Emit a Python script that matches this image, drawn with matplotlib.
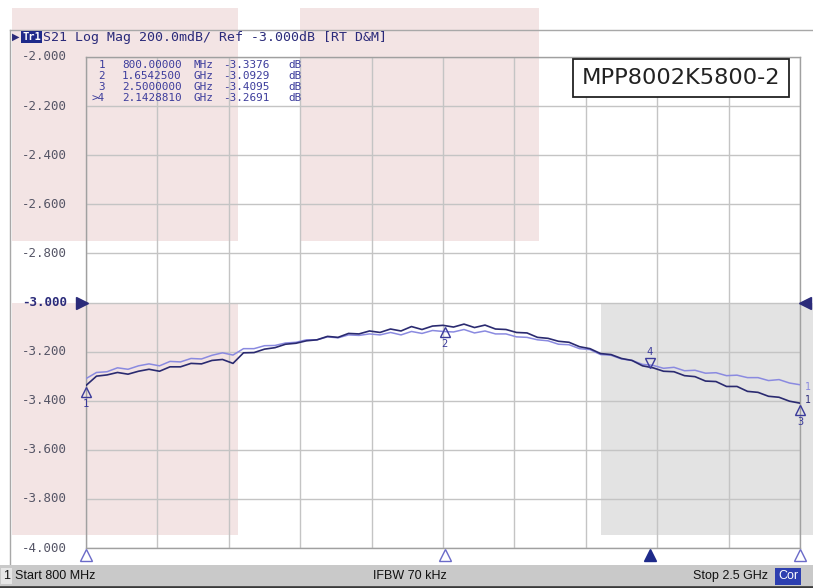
import numpy as np
import matplotlib
matplotlib.use("Agg")
import matplotlib.pyplot as plt
from matplotlib.patches import Rectangle
import matplotlib.transforms as mtransforms

# ---------------- data ----------------
freq_ghz = [0.800, 0.825, 0.850, 0.875, 0.900, 0.925, 0.950, 0.975, 1.000, 1.025,
            1.050, 1.075, 1.100, 1.125, 1.150, 1.175, 1.200, 1.225, 1.250, 1.275,
            1.300, 1.325, 1.350, 1.375, 1.400, 1.425, 1.450, 1.475, 1.500, 1.525,
            1.550, 1.575, 1.600, 1.625, 1.650, 1.675, 1.700, 1.725, 1.750, 1.775,
            1.800, 1.825, 1.850, 1.875, 1.900, 1.925, 1.950, 1.975, 2.000, 2.025,
            2.050, 2.075, 2.100, 2.125, 2.150, 2.175, 2.200, 2.225, 2.250, 2.275,
            2.300, 2.325, 2.350, 2.375, 2.400, 2.425, 2.450, 2.475, 2.500]

s21_data = [-3.338, -3.300, -3.295, -3.285, -3.292, -3.280, -3.272, -3.280, -3.262, -3.262,
            -3.248, -3.250, -3.236, -3.232, -3.248, -3.205, -3.204, -3.190, -3.184, -3.170,
            -3.166, -3.156, -3.152, -3.138, -3.142, -3.126, -3.128, -3.116, -3.122, -3.108,
            -3.116, -3.098, -3.110, -3.096, -3.093, -3.100, -3.088, -3.102, -3.092, -3.108,
            -3.110, -3.122, -3.124, -3.142, -3.146, -3.158, -3.162, -3.180, -3.188, -3.208,
            -3.212, -3.228, -3.236, -3.258, -3.266, -3.280, -3.282, -3.298, -3.302, -3.320,
            -3.322, -3.342, -3.342, -3.362, -3.366, -3.382, -3.386, -3.402, -3.410]

s21_mem = [-3.310, -3.285, -3.282, -3.266, -3.272, -3.258, -3.250, -3.258, -3.240, -3.242,
           -3.228, -3.230, -3.215, -3.205, -3.214, -3.188, -3.188, -3.176, -3.175, -3.165,
           -3.162, -3.152, -3.152, -3.140, -3.144, -3.132, -3.134, -3.128, -3.132, -3.122,
           -3.132, -3.118, -3.126, -3.114, -3.118, -3.120, -3.110, -3.124, -3.116, -3.128,
           -3.128, -3.140, -3.142, -3.152, -3.156, -3.170, -3.172, -3.188, -3.192, -3.212,
           -3.215, -3.230, -3.236, -3.252, -3.256, -3.268, -3.264, -3.278, -3.276, -3.288,
           -3.286, -3.298, -3.296, -3.306, -3.306, -3.318, -3.314, -3.328, -3.335]

marker_ids = ["1", "2", "3", "4"]
marker_freq = [0.800, 1.65425, 2.500, 2.142881]
marker_val = [-3.3376, -3.0929, -3.4095, -3.2691]
marker_num = ["1", "2", "3", ">4"]
marker_stim = ["800.00000", "1.6542500", "2.5000000", "2.1428810"]
marker_unit = ["MHz", "GHz", "GHz", "GHz"]
marker_resp = ["-3.3376", "-3.0929", "-3.4095", "-3.2691"]

y_ticks = [-2.0, -2.2, -2.4, -2.6, -2.8, -3.0, -3.2, -3.4, -3.6, -3.8, -4.0]
y_labels = ["-2.000", "-2.200", "-2.400", "-2.600", "-2.800", "-3.000",
            "-3.200", "-3.400", "-3.600", "-3.800", "-4.000"]
x_start, x_stop = 0.8, 2.5
header = "S21 Log Mag 200.0mdB/ Ref -3.000dB [RT D&M]"
title_box = "MPP8002K5800-2"

# ---------------- figure ----------------
W, H = 813, 588
fig = plt.figure(figsize=(W / 100, H / 100), dpi=100)
fig.patch.set_facecolor("white")

def fx(px):
    return px / W

def fy(py):
    return 1 - py / H

MONO = "DejaVu Sans Mono"
NAVY = "#2b2b7a"
TXT = "#3c3c9c"

# overlay shaded regions (behind axes content)
for (x0, y0, x1, y1, c) in [(12, 8, 238, 241, "#f3e4e4"),
                            (300, 8, 539, 241, "#f3e4e4"),
                            (12, 303, 238, 535, "#f3e4e4"),
                            (601, 303, 813, 535, "#e3e3e3")]:
    fig.patches.append(Rectangle((fx(x0), fy(y1)), fx(x1) - fx(x0), fy(y0) - fy(y1),
                                 transform=fig.transFigure, facecolor=c,
                                 edgecolor="none", zorder=-2))

# window borders
fig.add_artist(plt.Line2D([fx(10), fx(813)], [fy(30), fy(30)], color="#a8a8a8", lw=1.0, zorder=-1))
fig.add_artist(plt.Line2D([fx(10), fx(10)], [fy(30), fy(565)], color="#a8a8a8", lw=1.0, zorder=-1))

# status bar
fig.patches.append(Rectangle((fx(0), fy(586)), 1, fy(565) - fy(586), transform=fig.transFigure,
                             facecolor="#c9c9c9", edgecolor="none", zorder=1))
fig.add_artist(plt.Line2D([0, 1], [fy(587), fy(587)], color="#3a3a3a", lw=2.0, zorder=2))
SB = dict(fontsize=9.0, color="#111111", va="center", family="Liberation Sans", zorder=3)
fig.text(fx(3), fy(576), "1", ha="left",
         bbox=dict(boxstyle="square,pad=0.15", fc="#e6e6e6", ec="none"), **SB)
fig.text(fx(15), fy(576), "Start 800 MHz", ha="left", **SB)
fig.text(fx(410), fy(576), "IFBW 70 kHz", ha="center", **SB)
fig.text(fx(768), fy(576), "Stop 2.5 GHz", ha="right", **SB)
fig.text(fx(788), fy(576), "Cor", fontsize=9.0, color="white", va="center",
         ha="center", family="Liberation Sans", zorder=3,
         bbox=dict(boxstyle="square,pad=0.2", fc="#2d3fb0", ec="none"))

# header line
fig.text(fx(12), fy(37), "\u25B6", fontsize=7, color=NAVY, va="center", ha="left", zorder=3)
fig.text(fx(22), fy(37), "Tr1", fontsize=7.5, color="white", va="center", ha="left",
         family=MONO, weight="bold", zorder=3,
         bbox=dict(boxstyle="square,pad=0.12", fc="#1e2a8a", ec="none"))
fig.text(fx(43), fy(37), header, fontsize=9.5, color="#2a2a7a", va="center", ha="left",
         family=MONO, zorder=3)

# axes
ax = fig.add_axes([fx(86), fy(548), fx(800) - fx(86), fy(57) - fy(548)])
ax.set_zorder(0)
ax.set_facecolor("none")
ax.set_xlim(x_start, x_stop)
ax.set_ylim(-4.0, -2.0)
ax.set_xticks(np.linspace(x_start, x_stop, 11))
ax.set_yticks(y_ticks)
ax.set_xticklabels([])
ax.set_yticklabels([])
ax.tick_params(length=0)
ax.grid(True, color="#c4c4c4", lw=1.0)
for s in ax.spines.values():
    s.set_color("#a0a0a0")
    s.set_linewidth(1.0)

# y labels
for v, lab in zip(y_ticks, y_labels):
    bold = lab == "-3.000"
    ax.text(-0.09, v, lab, transform=ax.get_yaxis_transform(), ha="left", va="center",
            fontsize=9, family=MONO, color=(NAVY if bold else "#555566"),
            weight=("bold" if bold else "normal"), clip_on=False)

# traces
ax.plot(freq_ghz, s21_mem, color="#8a8ae0", lw=1.1, zorder=4)
ax.plot(freq_ghz, s21_data, color="#2a2a70", lw=1.2, zorder=5)

# reference arrows
ax.plot([x_start], [-3.0], marker=">", ms=8, color=NAVY, clip_on=False, zorder=6,
        transform=mtransforms.offset_copy(ax.transData, fig=fig, x=-4, y=0, units="dots"))
ax.plot([x_stop], [-3.0], marker="<", ms=8, color=NAVY, clip_on=False, zorder=6,
        transform=mtransforms.offset_copy(ax.transData, fig=fig, x=5, y=0, units="dots"))

# marker symbols on trace
MK = "#3a3a9a"
for mid, f, v in zip(marker_ids, marker_freq, marker_val):
    if mid == "4":
        tr = mtransforms.offset_copy(ax.transData, fig=fig, x=0, y=6, units="dots")
        ax.plot([f], [v], marker="v", ms=7, mfc="none", mec=MK, mew=1.0, transform=tr,
                clip_on=False, zorder=7)
        ax.text(f, v, mid, transform=mtransforms.offset_copy(ax.transData, fig=fig, x=0, y=17, units="dots"),
                ha="center", va="center", fontsize=7.5, family=MONO, color=MK, zorder=7)
    else:
        tr = mtransforms.offset_copy(ax.transData, fig=fig, x=0, y=-7, units="dots")
        ax.plot([f], [v], marker="^", ms=7, mfc="none", mec=MK, mew=1.0, transform=tr,
                clip_on=False, zorder=7)
        ax.text(f, v, mid, transform=mtransforms.offset_copy(ax.transData, fig=fig, x=0, y=-19, units="dots"),
                ha="center", va="center", fontsize=7.5, family=MONO, color=MK, zorder=7)

# trace end labels
ax.text(x_stop, s21_mem[-1], "1", transform=mtransforms.offset_copy(ax.transData, fig=fig, x=5, y=-2, units="dots"),
        ha="left", va="center", fontsize=7, family=MONO, color="#8a8ae0", clip_on=False, zorder=7)
ax.text(x_stop, s21_data[-1], "1", transform=mtransforms.offset_copy(ax.transData, fig=fig, x=5, y=3, units="dots"),
        ha="left", va="center", fontsize=7, family=MONO, color=NAVY, clip_on=False, zorder=7)

# stimulus markers below axis
for mid, f in zip(marker_ids, marker_freq):
    tr = mtransforms.offset_copy(ax.transData, fig=fig, x=0, y=-7, units="dots")
    filled = mid == "4"
    ax.plot([f], [-4.0], marker="^", ms=9, mfc=("#1e2a8a" if filled else "white"),
            mec=("#1e2a8a" if filled else "#6a6ac8"), mew=1.0, transform=tr,
            clip_on=False, zorder=7)

# marker table (columns placed separately)
TB = dict(fontsize=7.9, family=MONO, color=TXT, va="center", zorder=8)
for i in range(len(marker_num)):
    yy = fy(65 + 11 * i)
    fig.text(fx(105), yy, marker_num[i], ha="right", **TB)
    fig.text(fx(122), yy, marker_stim[i], ha="left", **TB)
    fig.text(fx(193), yy, marker_unit[i], ha="left", **TB)
    fig.text(fx(223), yy, marker_resp[i], ha="left", **TB)
    fig.text(fx(288), yy, "dB", ha="left", **TB)

# title box
fig.text(fx(681), fy(78), title_box, fontsize=16.2, family="DejaVu Sans", color="#222222",
         ha="center", va="center", zorder=9,
         bbox=dict(boxstyle="square,pad=0.4", fc="white", ec="#222222", lw=1.3))

fig.savefig("out.png", dpi=100, facecolor="white")
